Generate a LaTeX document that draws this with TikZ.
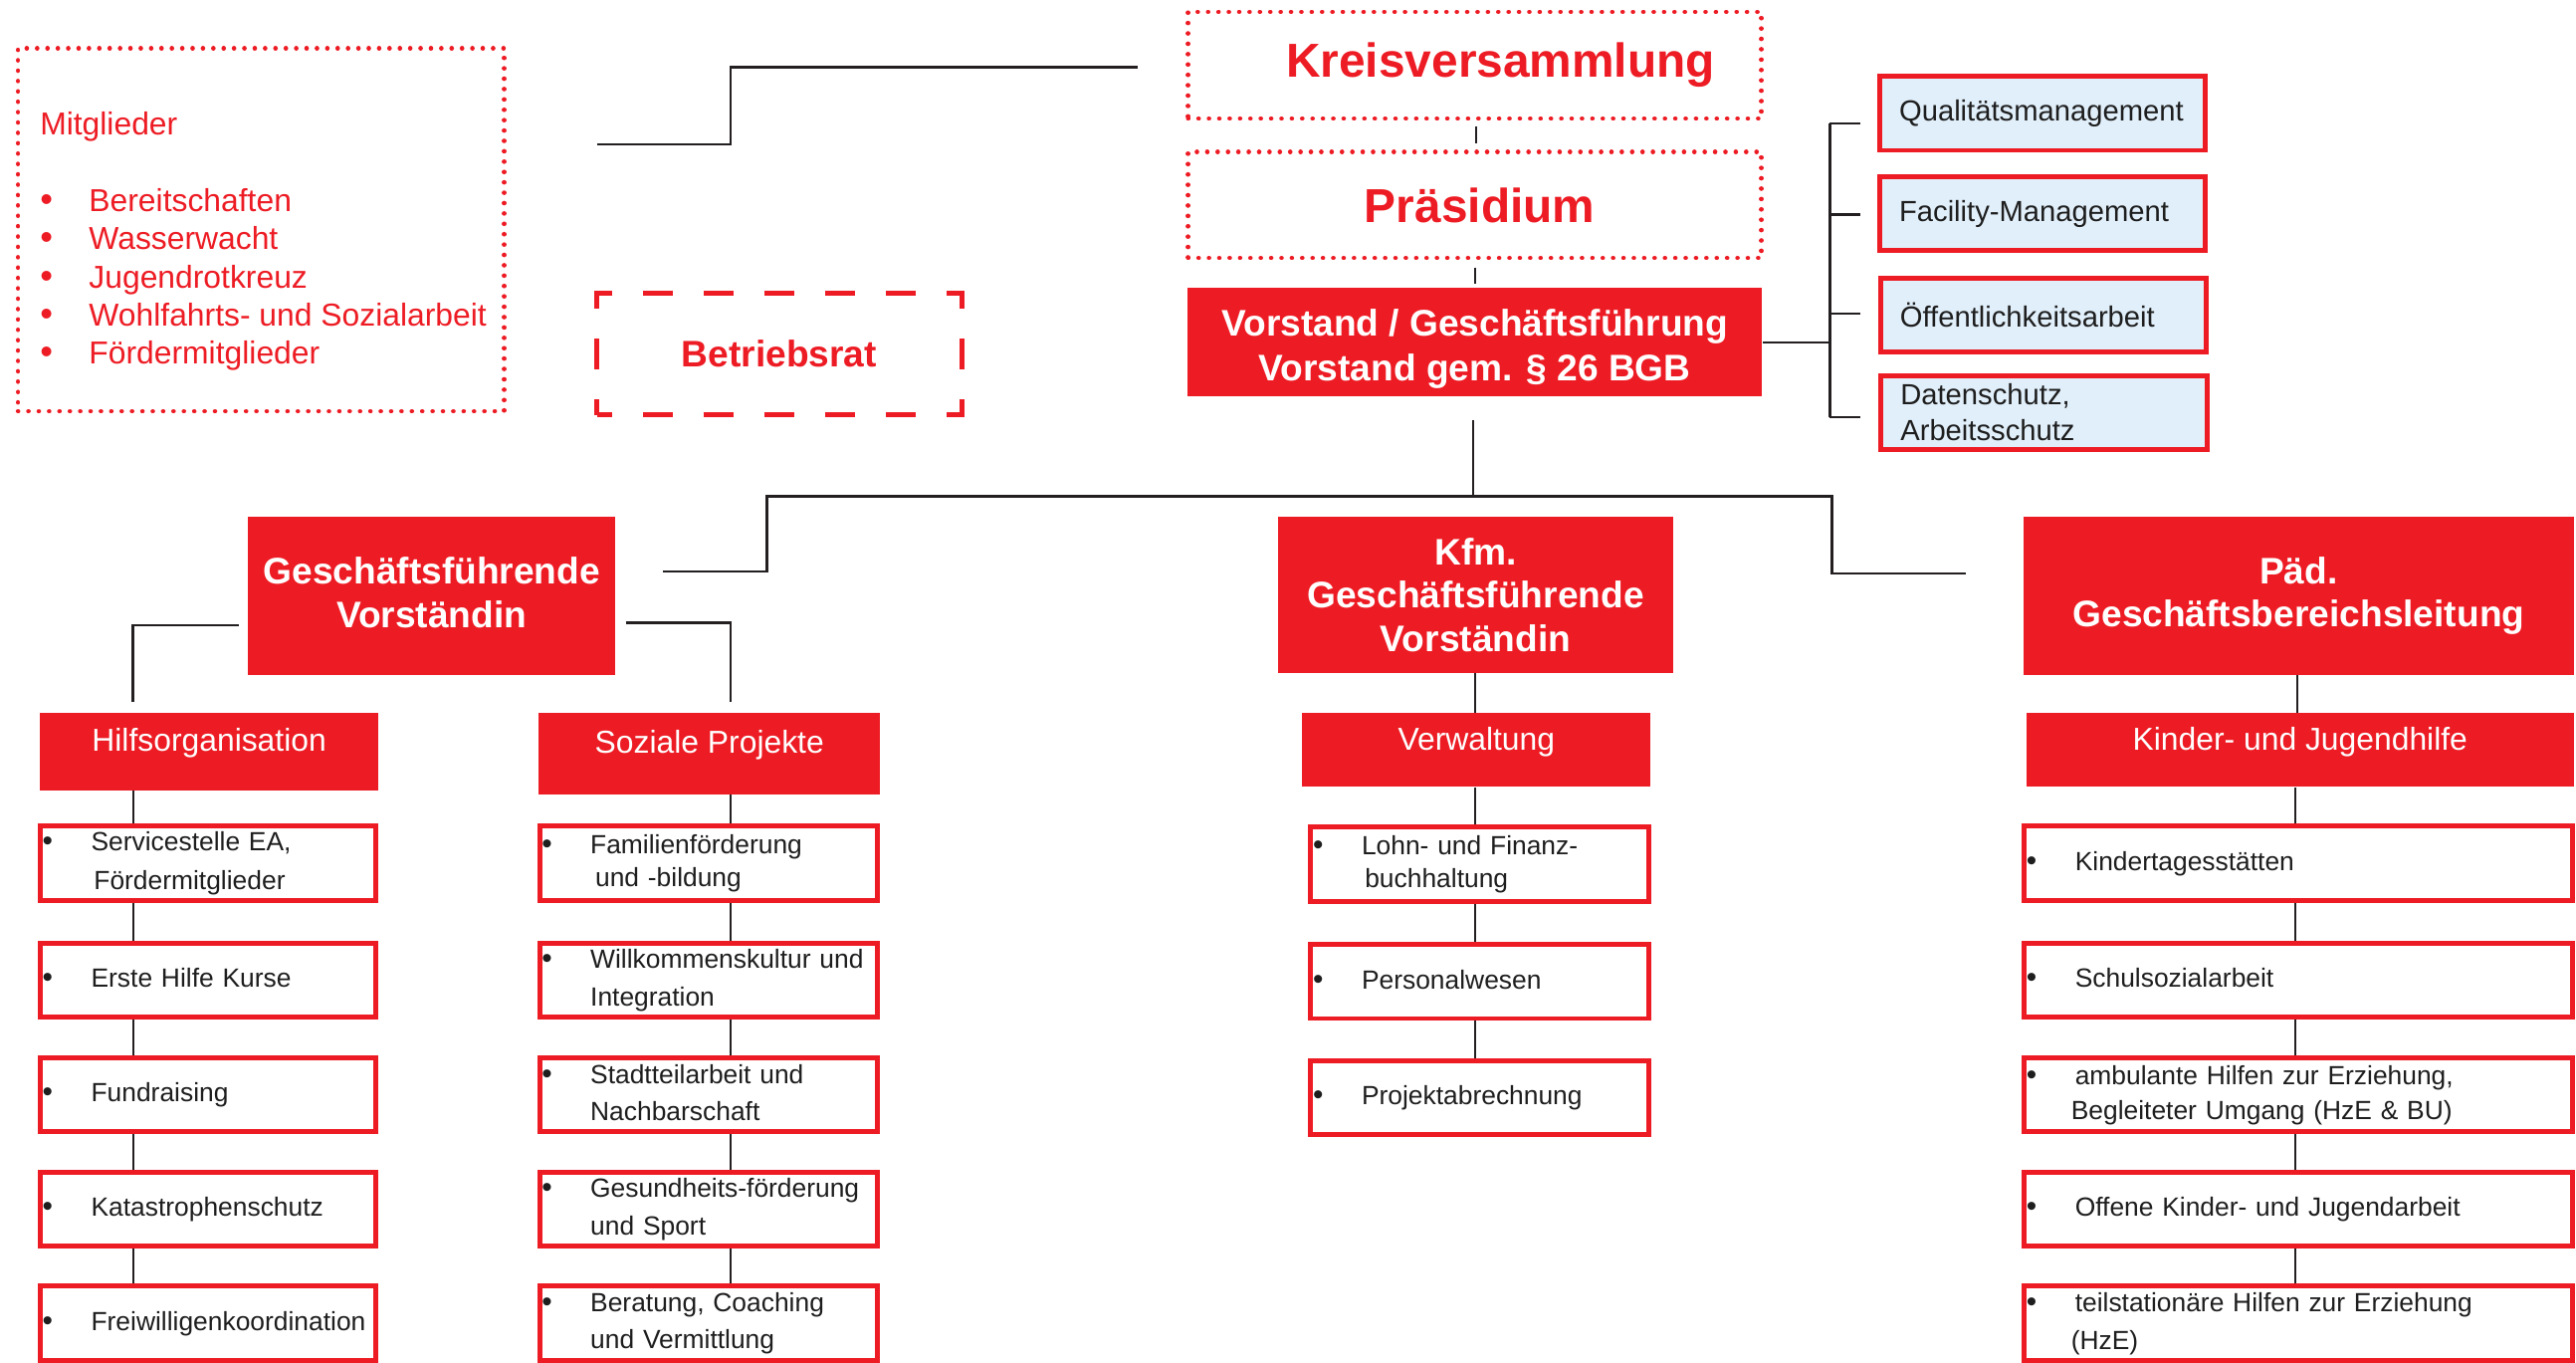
\documentclass[tikz,border=0pt]{standalone}
\usepackage{fontspec}
\setmainfont{Liberation Sans}
\definecolor{drk}{RGB}{237,28,36}
\definecolor{lblue}{RGB}{225,239,250}
\definecolor{ln}{RGB}{35,31,32}
\definecolor{txt}{RGB}{30,30,30}
\newcommand{\bl}[1]{\begin{tabular}{@{}p{29.2pt}@{}l@{}}\hspace{-0.4pt}{\fontsize{18}{22}\selectfont•}&#1\end{tabular}}
\begin{document}
\begin{tikzpicture}[x=1pt,y=-1pt,
  conn/.style={draw=ln, line width=1.5},
  thinconn/.style={draw=ln, line width=1.1},
  dotbox/.style={draw=drk, line width=2.8, line cap=round, dash pattern=on 0.01pt off 6.3pt, inner sep=0},
  dashbox/.style={draw=drk, line width=3, dash pattern=on 18.5pt off 18.5pt, dash phase=9.25pt, inner sep=0, text=drk, font=\bfseries\fontsize{22.5}{27}\selectfont},
  bigred/.style={text=drk, font=\bfseries\fontsize{29}{34}\selectfont},
  redbox/.style={fill=drk, inner sep=0},
  redtext/.style={text=white, align=center, inner sep=0, font=\bfseries\fontsize{22.5}{27}\selectfont},
  subbox/.style={fill=drk, inner sep=0, text=white, font=\fontsize{19.3}{23}\selectfont, text height=14pt, text depth=14pt},
  leaf/.style={draw=drk, line width=3, fill=white, inner ysep=0, inner xsep=1.8, minimum height=45, align=left, text=txt, font=\fontsize{16}{22}\selectfont},
  leafA/.style={leaf, minimum width=204, text width=200.4},
  leafB/.style={leaf, minimum width=206, text width=202.4},
  leafC/.style={leaf, minimum width=206.1, text width=202.5},
  leafD/.style={leaf, minimum width=334, text width=330.4},
  qbox/.style={draw=drk, line width=3, fill=lblue, inner ysep=0, inner xsep=11.9, minimum width=198.5, text width=174.7, minimum height=45, align=left, text=txt, font=\fontsize{17.7}{22}\selectfont},
]
\useasboundingbox (0,0) rectangle (1568.5,829.7);

% ---------- top left ----------
\node[dotbox, minimum width=296, minimum height=221] (mitgl) at (159,139.9) {};
\node[anchor=base west, inner sep=0, text=drk, font=\fontsize{19.3}{23.3}\selectfont] (mitgltxt) at (24.2,82)
  {\begin{tabular}[t]{@{}p{29.8pt}@{}l@{}}\multicolumn{2}{@{}l@{}}{Mitglieder}\\[23.3pt]
   {\fontsize{22}{23.3}\selectfont•}&Bereitschaften\\ {\fontsize{22}{23.3}\selectfont•}&Wasserwacht\\ {\fontsize{22}{23.3}\selectfont•}&Jugendrotkreuz\\ {\fontsize{22}{23.3}\selectfont•}&Wohlfahrts- und Sozialarbeit\\ {\fontsize{22}{23.3}\selectfont•}&Fördermitglieder\end{tabular}};

\node[dashbox, minimum width=222, minimum height=74] (betr) at (474.5,215.5) {Betriebsrat};

% ---------- top centre ----------
\node[dotbox, minimum width=349, minimum height=65, label={[bigred, xshift=15.7pt]center:Kreisversammlung}] (kreis) at (898,39.7) {};
\node[dotbox, minimum width=349, minimum height=64.5, label={[bigred, xshift=3pt]center:Präsidium}] (praes) at (898,124.8) {};
\node[redbox, minimum width=350, minimum height=66, label={[redtext, yshift=-4pt]center:{Vorstand / Geschäftsführung\\Vorstand gem. § 26 BGB}}] (vorst) at (898,208.35) {};

% ---------- staff boxes ----------
\node[qbox] (q1) at (1243.75,69) {Qualitätsmanagement};
\node[qbox] (q2) at (1243.75,130) {Facility-Management};
\node[qbox] (q3) at (1244.25,192) {Öffentlichkeitsarbeit};
\node[qbox] (q4) at (1244.5,251) {Datenschutz,\\Arbeitsschutz};

% ---------- level 2 ----------
\node[redbox, minimum width=223.7, minimum height=96.2, label={[redtext, yshift=2pt]center:{Geschäftsführende\\Vorständin}}] (gf) at (262.85,362.7) {};
\node[redbox, minimum width=240.2, minimum height=95, label={[redtext, font=\bfseries\fontsize{22.5}{26.5}\selectfont]center:{Kfm.\\Geschäftsführende\\Vorständin}}] (kfm) at (898.5,362.1) {};
\node[redbox, minimum width=335.3, minimum height=96.2, label={[redtext, font=\bfseries\fontsize{22.5}{25.5}\selectfont]center:{Päd.\\Geschäftsbereichsleitung}}] (paed) at (1399.65,362.7) {};

% ---------- level 3 ----------
\node[subbox, minimum width=205.9, minimum height=47] (hilfs) at (127.35,457.5) {Hilfsorganisation};
\node[subbox, minimum width=208, minimum height=49.5] (sozial) at (432,458.75) {Soziale Projekte};
\node[subbox, minimum width=212, minimum height=45] (verw) at (899,456.5) {Verwaltung};
\node[subbox, minimum width=333, minimum height=45] (kjh) at (1400.5,456.5) {Kinder- und Jugendhilfe};

% ---------- leaves ----------
\node[leafA] (a1) at (126.5,525.5) {\bl{Servicestelle EA,\\[1.5pt]&\hspace{1.7pt}Fördermitglieder}};
\node[leafA] (a2) at (126.5,596.5) {\bl{Erste Hilfe Kurse}};
\node[leafA] (a3) at (126.5,666.5) {\bl{Fundraising}};
\node[leafA] (a4) at (126.5,736) {\bl{Katastrophenschutz}};
\node[leafA] (a5) at (126.5,805.5) {\bl{Freiwilligenkoordination}};

\node[leafB] (b1) at (431.5,525.5) {\bl{Familienförderung\\[-2pt]&\hspace{3pt}und -bildung}};
\node[leafB] (b2) at (431.5,596.5) {\bl{Willkommenskultur und\\[1pt]&Integration}};
\node[leafB] (b3) at (431.5,666.5) {\bl{Stadtteilarbeit und\\[0.4pt]&Nachbarschaft}};
\node[leafB] (b4) at (431.5,736) {\bl{Gesundheits-förderung\\[1.3pt]&und Sport}};
\node[leafB] (b5) at (431.5,805.5) {\bl{Beratung, Coaching\\[0.4pt]&und Vermittlung}};

\node[leafC] (c1) at (901.15,526) {\bl{Lohn- und Finanz-\\[-1.6pt]&\hspace{2pt}buchhaltung}};
\node[leafC] (c2) at (901.15,597.5) {\bl{Personalwesen}};
\node[leafC] (c3) at (901.15,668) {\bl{Projektabrechnung}};

\node[leafD] (d1) at (1399.5,525.5) {\bl{Kindertagesstätten}};
\node[leafD] (d2) at (1399.5,596.5) {\bl{Schulsozialarbeit}};
\node[leafD] (d3) at (1399.5,666.5) {\bl{ambulante Hilfen zur Erziehung,\\[-1pt]&\hspace{-2.4pt}Begleiteter Umgang (HzE \& BU)}};
\node[leafD] (d4) at (1399.5,736) {\bl{Offene Kinder- und Jugendarbeit}};
\node[leafD] (d5) at (1399.5,805.5) {\bl{teilstationäre Hilfen zur Erziehung\\[1pt]&\hspace{-2.4pt}(HzE)}};

% ---------- connector coordinates ----------
\coordinate (mA) at (363.5,88);
\coordinate (mB) at (693,41);
\coordinate (v0) at (897,255.5);
\coordinate (vbar) at (897,302);
\coordinate (gfin) at (403.6,348);
\coordinate (paedin) at (1197,349);
\coordinate (gfl) at (145.4,380.5);
\coordinate (hin) at (81,427);
\coordinate (gfr) at (381,379);
\coordinate (sin) at (444.7,427);
\coordinate (bx) at (1114,208.35);
\coordinate (bt) at (1114,75);
\coordinate (bb) at (1114,254);
\coordinate (t1) at (1133,75);
\coordinate (t2) at (1133,130.5);
\coordinate (t3) at (1133,191);
\coordinate (t4) at (1133,254);
\coordinate (xA) at (81,0);
\coordinate (xB) at (444.7,0);
\coordinate (xC) at (898,0);
\coordinate (xD) at (1397.8,0);
\coordinate (xP) at (1398.8,0);

% ---------- connectors ----------
\draw[conn] (mA) -- ++(81.5,0) |- (mB);
\draw[conn, line width=1.2] ([yshift=-3.5pt]kreis.south -| 899,0) -- ([yshift=4pt]praes.north -| 899,0);
\draw[conn, line width=1.2] ([yshift=-4.5pt]praes.south) -- ([yshift=2.3pt]vorst.north);
\draw[conn] (v0) -- (vbar);
\draw[conn] (gfin) -| (467,302) -- (1115.4,302) |- (paedin);
\draw[conn] (gfl) -| (hin);
\draw[conn] (gfr) -| (sin);
\draw[conn] (vorst.east) -- (bx);
\draw[conn, line width=1.8] (bt) -- (bb);
\draw[conn] (bt) -- (t1);
\draw[conn] (bt |- t2) -- (t2);
\draw[conn] (bt |- t3) -- (t3);
\draw[conn] (bb) -- (t4);

\draw[thinconn] (kfm.south -| xC) -- (verw.north -| xC);
\draw[thinconn] (paed.south -| xP) -- (kjh.north -| xP);

\draw[thinconn] (hilfs.south -| xA) -- (a1.north -| xA);
\foreach \u/\v in {a1/a2,a2/a3,a3/a4,a4/a5}
  \draw[thinconn] (\u.south -| xA) -- (\v.north -| xA);
\draw[thinconn] (sozial.south -| xB) -- (b1.north -| xB);
\foreach \u/\v in {b1/b2,b2/b3,b3/b4,b4/b5}
  \draw[thinconn] (\u.south -| xB) -- (\v.north -| xB);
\draw[thinconn] (verw.south -| xC) -- (c1.north -| xC);
\foreach \u/\v in {c1/c2,c2/c3}
  \draw[thinconn] (\u.south -| xC) -- (\v.north -| xC);
\draw[thinconn] (kjh.south -| xD) -- (d1.north -| xD);
\foreach \u/\v in {d1/d2,d2/d3,d3/d4,d4/d5}
  \draw[thinconn] (\u.south -| xD) -- (\v.north -| xD);
\end{tikzpicture}
\end{document}
